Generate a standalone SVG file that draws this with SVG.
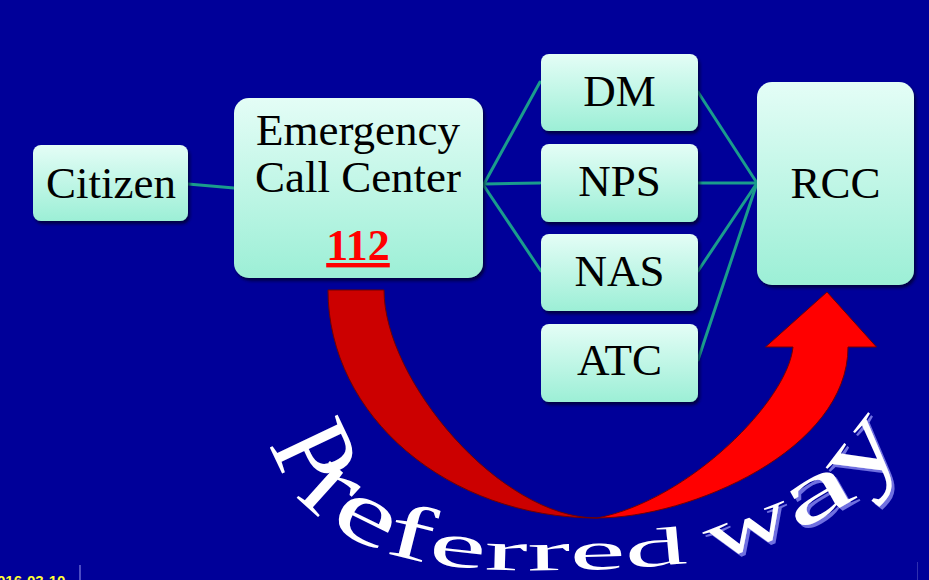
<svg xmlns="http://www.w3.org/2000/svg" width="929" height="580" viewBox="0 0 929 580">
<defs>
  <linearGradient id="boxGrad" x1="0" y1="0" x2="0" y2="1">
    <stop offset="0" stop-color="#e4fdf6"/>
    <stop offset="1" stop-color="#9cefd6"/>
  </linearGradient>
  <filter id="boxShadow" x="-10%" y="-10%" width="125%" height="130%">
    <feDropShadow dx="2" dy="3" stdDeviation="1.5" flood-color="#000022" flood-opacity="0.7"/>
  </filter>
  <filter id="wayShadow" x="-20%" y="-20%" width="150%" height="150%">
    <feDropShadow dx="3" dy="3" stdDeviation="0.6" flood-color="#7070e0" flood-opacity="1"/>
  </filter>
  <path id="archPath" d="M270,418 C268,470 300,515 362,543 C424,571 500,571 560,570 C620,570 706,566 756,546 C806,527 862,505 892,455 L907,430"/>
</defs>
<style>
  .box { fill: url(#boxGrad); filter: url(#boxShadow); }
  .label { font-family: "Liberation Serif", "Times New Roman", serif; font-size: 45px; fill: #000; text-anchor: middle; }
  .conn { stroke: #1a9c8c; stroke-width: 3; fill: none; stroke-linecap: round; }
  .arch { font-family: "Liberation Serif", "Times New Roman", serif; fill: #ffffff; }
  .arrowDark { fill: #cc0000; stroke: #700000; stroke-width: 1; }
  .arrowLight { fill: #ff0000; stroke: #700000; stroke-width: 1; }
</style>

<rect x="0" y="0" width="929" height="580" fill="#000099"/>

<g id="connectors">
  <line class="conn" x1="188" y1="184" x2="234" y2="188"/>
  <line class="conn" x1="484" y1="184" x2="540" y2="82"/>
  <line class="conn" x1="484" y1="184" x2="540" y2="183"/>
  <line class="conn" x1="484" y1="186" x2="541" y2="271"/>
  <line class="conn" x1="698" y1="92" x2="757" y2="183"/>
  <line class="conn" x1="698" y1="183" x2="757" y2="183"/>
  <line class="conn" x1="698" y1="271" x2="757" y2="183"/>
  <line class="conn" x1="698" y1="360" x2="757" y2="183"/>
</g>

<g id="preferred-arrow">
  <path class="arrowDark" d="M328,290 L384,290 C384,380 500,518 597,518 C448,518 328,416 328,290 Z"/>
  <path class="arrowLight" d="M597,518 C690,518 848,450 848,347 L876.5,347 L827,292 L765.5,347 L793,347 C788,400 690,500 597,518 Z"/>
</g>

<g id="citizen">
  <rect class="box" x="33" y="145" width="155" height="76" rx="8"/>
  <text class="label" x="111" y="198">Citizen</text>
</g>

<g id="ecc">
  <rect class="box" x="234" y="98" width="249" height="180" rx="15"/>
  <text class="label" x="358" y="145">Emergency</text>
  <text class="label" x="358" y="192">Call Center</text>
  <text x="358" y="260" font-family="Liberation Serif, Times New Roman, serif" font-size="44" font-weight="bold" fill="#ff0000" text-anchor="middle" text-decoration="underline">112</text>
</g>

<g id="dm">
  <rect class="box" x="541" y="54" width="157" height="77" rx="8"/>
  <text class="label" x="619.5" y="106">DM</text>
</g>

<g id="nps">
  <rect class="box" x="541" y="144" width="157" height="78" rx="8"/>
  <text class="label" x="619.5" y="196">NPS</text>
</g>

<g id="nas">
  <rect class="box" x="541" y="234" width="157" height="77" rx="8"/>
  <text class="label" x="619.5" y="286">NAS</text>
</g>

<g id="atc">
  <rect class="box" x="541" y="324" width="157" height="78" rx="8"/>
  <text class="label" x="619.5" y="375">ATC</text>
</g>

<g id="rcc">
  <rect class="box" x="757" y="82" width="157" height="203" rx="15"/>
  <text class="label" x="835.5" y="198">RCC</text>
</g>

<g id="preferred-way-label">
  <text class="arch"><textPath href="#archPath" startOffset="25"><tspan font-size="115" textLength="58" lengthAdjust="spacingAndGlyphs">P</tspan><tspan font-size="108" textLength="44" lengthAdjust="spacingAndGlyphs">r</tspan><tspan font-size="90" textLength="62" lengthAdjust="spacingAndGlyphs">e</tspan><tspan font-size="78" textLength="45" lengthAdjust="spacingAndGlyphs">f</tspan><tspan font-size="64" textLength="57" lengthAdjust="spacingAndGlyphs">e</tspan><tspan font-size="56" textLength="43" lengthAdjust="spacingAndGlyphs">r</tspan><tspan font-size="55" textLength="43" lengthAdjust="spacingAndGlyphs">r</tspan><tspan font-size="55" textLength="56" lengthAdjust="spacingAndGlyphs">e</tspan><tspan font-size="54" textLength="62" lengthAdjust="spacingAndGlyphs">d</tspan></textPath></text>
  <text class="arch" filter="url(#wayShadow)"><textPath href="#archPath" startOffset="520"><tspan font-size="70" textLength="88" lengthAdjust="spacingAndGlyphs">w</tspan><tspan font-size="85" textLength="72" lengthAdjust="spacingAndGlyphs">a</tspan><tspan font-size="100" textLength="72" lengthAdjust="spacingAndGlyphs">y</tspan></textPath></text>
</g>

<g id="footer">
  <line x1="80" y1="565" x2="80" y2="580" stroke="#8080e0" stroke-width="1.2"/>
  <line x1="917.5" y1="562" x2="917.5" y2="580" stroke="#3030b0" stroke-width="1"/>
  <text x="-3" y="586" font-family="Liberation Sans, Arial, sans-serif" font-size="15" font-weight="bold" fill="#ffff33">016-03-10</text>
</g>
</svg>
